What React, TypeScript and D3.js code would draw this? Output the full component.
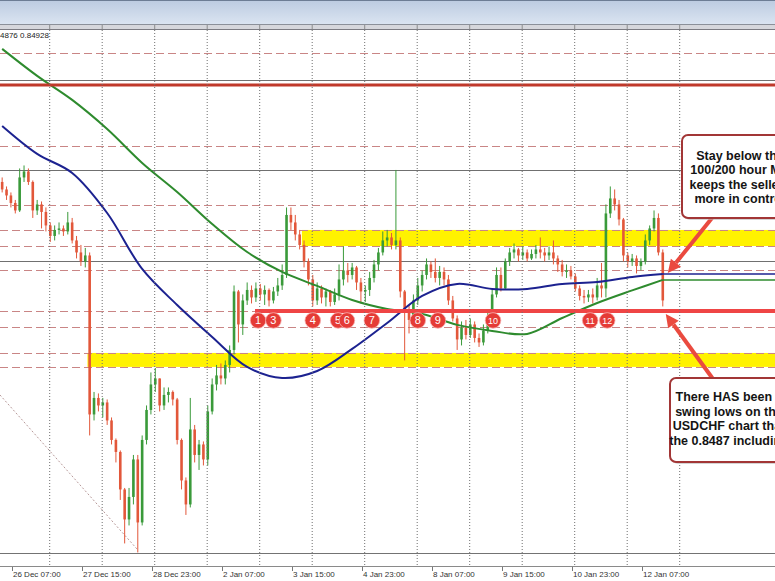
import React, { useEffect, useRef } from 'react';
import * as d3 from 'd3';

// USDCHF, 2-hour candles. open of each bar = previous close
const firstOpen = 0.8573;
const closes = [
  0.8568, 0.8564, 0.8559, 0.8554, 0.8576, 0.8580, 0.8573, 0.8554, 0.8558, 0.8553,
  0.8544, 0.8537, 0.8541, 0.8542, 0.8540, 0.8546, 0.8534, 0.8526, 0.8520, 0.8524,
  0.8418, 0.8429, 0.8424, 0.8426, 0.8414, 0.8401, 0.8393, 0.8368, 0.8348, 0.8363,
  0.8388, 0.8346, 0.8401, 0.8421, 0.8438, 0.8442, 0.8424, 0.8431, 0.8433, 0.8428,
  0.8401, 0.8374, 0.8358, 0.8408, 0.8391, 0.8398, 0.8388, 0.8420, 0.8438, 0.8444,
  0.8442, 0.8451, 0.8461, 0.8500, 0.8478, 0.8494, 0.8501, 0.8496, 0.8502, 0.8498,
  0.8501, 0.8494, 0.8500, 0.8504, 0.8511, 0.8551, 0.8546, 0.8538, 0.8531, 0.8520,
  0.8508, 0.8494, 0.8502, 0.8496, 0.8500, 0.8493, 0.8498, 0.8508, 0.8514, 0.8511,
  0.8516, 0.8506, 0.8500, 0.8501, 0.8509, 0.8518, 0.8526, 0.8534, 0.8536, 0.8531,
  0.8534, 0.8500, 0.8488, 0.8481, 0.8494, 0.8504, 0.8511, 0.8518, 0.8513, 0.8509,
  0.8513, 0.8508, 0.8494, 0.8482, 0.8468, 0.8476, 0.8471, 0.8478, 0.8469, 0.8466,
  0.8474, 0.8482, 0.8498, 0.8511, 0.8502, 0.8520, 0.8526, 0.8528, 0.8524, 0.8526,
  0.8522, 0.8525, 0.8528, 0.8526, 0.8524, 0.8526, 0.8522, 0.8518, 0.8513, 0.8514,
  0.8510, 0.8502, 0.8497, 0.8496, 0.8498, 0.8496, 0.8504, 0.8502, 0.8552, 0.8562,
  0.8558, 0.8548, 0.8524, 0.8520, 0.8522, 0.8517, 0.8520, 0.8534, 0.8542, 0.8549,
  0.8526, 0.8494,
];
const highs = [
  0.8576, 0.8570, 0.8566, 0.8561, 0.8582, 0.8584, 0.8582, 0.8574, 0.8561, 0.8560,
  0.8556, 0.8546, 0.8544, 0.8546, 0.8544, 0.8553, 0.8549, 0.8537, 0.8531, 0.8529,
  0.8526, 0.8433, 0.8432, 0.8429, 0.8428, 0.8416, 0.8402, 0.8394, 0.8369, 0.8369,
  0.8391, 0.8391, 0.8404, 0.8424, 0.8446, 0.8449, 0.8442, 0.8436, 0.8436, 0.8434,
  0.8429, 0.8402, 0.8376, 0.8429, 0.8411, 0.8401, 0.8400, 0.8424, 0.8442, 0.8451,
  0.8452, 0.8454, 0.8464, 0.8504, 0.8501, 0.8498, 0.8506, 0.8504, 0.8506, 0.8505,
  0.8504, 0.8502, 0.8503, 0.8509, 0.8518, 0.8556, 0.8556, 0.8551, 0.8541, 0.8534,
  0.8522, 0.8511, 0.8506, 0.8504, 0.8502, 0.8501, 0.8502, 0.8518, 0.8530, 0.8519,
  0.8519, 0.8517, 0.8509, 0.8504, 0.8513, 0.8521, 0.8529, 0.8540, 0.8541, 0.8539,
  0.8581, 0.8536, 0.8501, 0.8491, 0.8498, 0.8509, 0.8514, 0.8522, 0.8520, 0.8522,
  0.8517, 0.8516, 0.8511, 0.8497, 0.8484, 0.8480, 0.8481, 0.8482, 0.8480, 0.8472,
  0.8478, 0.8486, 0.8501, 0.8516, 0.8516, 0.8522, 0.8529, 0.8532, 0.8529, 0.8530,
  0.8528, 0.8528, 0.8531, 0.8536, 0.8529, 0.8530, 0.8534, 0.8524, 0.8521, 0.8518,
  0.8517, 0.8512, 0.8504, 0.8501, 0.8501, 0.8502, 0.8509, 0.8519, 0.8558, 0.8570,
  0.8568, 0.8561, 0.8549, 0.8526, 0.8525, 0.8524, 0.8522, 0.8538, 0.8544, 0.8554,
  0.8552, 0.8528,
];
const lows = [
  0.8566, 0.8561, 0.8556, 0.8552, 0.8553, 0.8573, 0.8571, 0.8549, 0.8551, 0.8542,
  0.8540, 0.8533, 0.8534, 0.8538, 0.8537, 0.8538, 0.8532, 0.8522, 0.8517, 0.8516,
  0.8404, 0.8414, 0.8420, 0.8416, 0.8411, 0.8398, 0.8386, 0.8361, 0.8332, 0.8344,
  0.8358, 0.8326, 0.8344, 0.8398, 0.8418, 0.8433, 0.8420, 0.8421, 0.8426, 0.8424,
  0.8398, 0.8368, 0.8351, 0.8356, 0.8386, 0.8381, 0.8384, 0.8384, 0.8418, 0.8434,
  0.8438, 0.8438, 0.8446, 0.8458, 0.8466, 0.8471, 0.8491, 0.8492, 0.8493, 0.8494,
  0.8491, 0.8490, 0.8492, 0.8497, 0.8501, 0.8509, 0.8541, 0.8534, 0.8528, 0.8516,
  0.8504, 0.8490, 0.8491, 0.8492, 0.8490, 0.8490, 0.8491, 0.8494, 0.8504, 0.8506,
  0.8508, 0.8501, 0.8492, 0.8493, 0.8497, 0.8506, 0.8514, 0.8524, 0.8530, 0.8528,
  0.8528, 0.8496, 0.8454, 0.8472, 0.8478, 0.8491, 0.8500, 0.8508, 0.8509, 0.8506,
  0.8504, 0.8504, 0.8491, 0.8480, 0.8461, 0.8464, 0.8468, 0.8469, 0.8466, 0.8463,
  0.8464, 0.8472, 0.8480, 0.8496, 0.8500, 0.8501, 0.8517, 0.8522, 0.8520, 0.8521,
  0.8520, 0.8521, 0.8522, 0.8522, 0.8520, 0.8521, 0.8518, 0.8513, 0.8510, 0.8509,
  0.8508, 0.8500, 0.8494, 0.8492, 0.8493, 0.8492, 0.8494, 0.8496, 0.8496, 0.8549,
  0.8554, 0.8544, 0.8520, 0.8516, 0.8517, 0.8512, 0.8514, 0.8518, 0.8531, 0.8540,
  0.8524, 0.8490,
];

// moving averages sampled every 8 bars
const maBars = [0, 8, 16, 24, 32, 40, 48, 56, 64, 72, 80, 88, 96, 104, 112, 120, 128, 136, 144, 151];
const ma100 = [
  0.86103, 0.85917, 0.8579, 0.85523, 0.8515, 0.8491, 0.84697, 0.84497, 0.84423, 0.8447,
  0.84617, 0.8479, 0.8497, 0.8505, 0.85017, 0.85017, 0.8505, 0.85063, 0.85097, 0.85117,
];
const ma200 = [
  0.86617, 0.86437, 0.86277, 0.86083, 0.85857, 0.85663, 0.8545, 0.85263, 0.8513, 0.85037,
  0.84943, 0.84883, 0.8485, 0.84777, 0.84737, 0.84717, 0.84823, 0.84923, 0.85007, 0.85077,
];

const timeLabels = [
  '26 Dec 07:00', '27 Dec 15:00', '28 Dec 23:00', '2 Jan 07:00', '3 Jan 15:00',
  '4 Jan 23:00', '8 Jan 07:00', '9 Jan 15:00', '10 Jan 23:00', '12 Jan 07:00',
];

const dashedLevels = [0.8659, 0.8597, 0.85577, 0.8541, 0.85303, 0.85143, 0.8487, 0.84763, 0.8459, 0.84497];
const solidLevels = [0.8641, 0.8581, 0.85203];
const topLevel = 0.86377;
const swingLevel = 0.8487;
const bandTops = [0.8541, 0.8459];
const bandBottoms = [0.85303, 0.84497];
const bandStarts = [68.5, 19.5];
const trendBars = [-0.5, 31];
const trendPrices = [0.8431, 0.83277];
const swingBars = [58.5, 62, 71, 76.8, 78.8, 84.5, 95, 99.6, 112.2, 134.4, 138.3];
const swingLabels = ['1', '3', '4', '5', '6', '7', '8', '9', '10', '11', '12'];

const boxTop = ['Stay below the', '100/200 hour MA', 'keeps the sellers', 'more in control'];
const boxBottom = ['There HAS been a', 'swing lows on the', 'USDCHF chart that', 'the 0.8487 including'];

const W = 775;
const H = 581;

const App: React.FC = () => {
  const ref = useRef<SVGSVGElement | null>(null);

  useEffect(() => {
    if (!ref.current) return;
    const svg = d3.select(ref.current);
    svg.selectAll('*').remove();

    // hour-bar index -> px, labels every 32 bars
    const x = d3.scaleLinear().domain([5, 5 + 32 * 10]).range([12, 712]);
    const xBar = (i: number) => x(2 * i + 0.5);
    const y = d3.scaleLinear().domain([0.83243, 0.86743]).range([555, 30]);
    const font = 'Liberation Sans, Arial, sans-serif';

    const defs = svg.append('defs');
    const grad = defs.append('linearGradient').attr('id', 'hdr')
      .attr('x1', 0).attr('y1', 0).attr('x2', 0).attr('y2', 1);
    grad.append('stop').attr('offset', '0%').attr('stop-color', '#bccbe1');
    grad.append('stop').attr('offset', '100%').attr('stop-color', '#dae4f1');
    defs.append('clipPath').attr('id', 'plot')
      .append('rect').attr('x', 0).attr('y', 30).attr('width', W).attr('height', 523);

    svg.append('rect').attr('width', W).attr('height', H).attr('fill', '#fff');

    const plot = svg.append('g').attr('clip-path', 'url(#plot)');

    // yellow zones
    bandTops.forEach((t, k) => {
      plot.append('rect')
        .attr('x', xBar(bandStarts[k])).attr('y', y(t))
        .attr('width', W - xBar(bandStarts[k])).attr('height', y(bandBottoms[k]) - y(t))
        .attr('fill', '#fff200');
    });

    // vertical dotted grid, every 24 bars
    const gridHours = d3.range(22, 320, 24);
    svg.selectAll('.vgrid').data(gridHours).enter().append('line')
      .attr('x1', d => x(d) + 0.5).attr('x2', d => x(d) + 0.5)
      .attr('y1', 30).attr('y2', 567)
      .attr('stroke', '#6f6f6f').attr('stroke-dasharray', '1,2');

    plot.selectAll('.dash').data(dashedLevels).enter().append('line')
      .attr('x1', 0).attr('x2', W)
      .attr('y1', d => Math.round(y(d)) + 0.5).attr('y2', d => Math.round(y(d)) + 0.5)
      .attr('stroke', '#c98585').attr('stroke-dasharray', '8,4');

    plot.selectAll('.solid').data(solidLevels).enter().append('line')
      .attr('x1', 0).attr('x2', W)
      .attr('y1', d => Math.round(y(d)) + 0.5).attr('y2', d => Math.round(y(d)) + 0.5)
      .attr('stroke', '#707070');

    plot.append('line')
      .attr('x1', xBar(trendBars[0])).attr('y1', y(trendPrices[0]))
      .attr('x2', xBar(trendBars[1])).attr('y2', y(trendPrices[1]))
      .attr('stroke', '#b89a9a').attr('stroke-dasharray', '2,2');

    // candles
    const candles = closes.map((c, i) => ({
      i, o: i === 0 ? firstOpen : closes[i - 1], c, h: highs[i], l: lows[i],
    }));
    const bull = '#3a9a3a';
    const bear = '#e2573a';
    const cg = plot.append('g');
    cg.selectAll('.wick').data(candles).enter().append('line')
      .attr('x1', d => xBar(d.i)).attr('x2', d => xBar(d.i))
      .attr('y1', d => y(Math.max(d.h, d.o, d.c))).attr('y2', d => y(Math.min(d.l, d.o, d.c)))
      .attr('stroke', d => (d.c >= d.o ? bull : bear)).attr('stroke-width', 1);
    cg.selectAll('.body').data(candles).enter().append('rect')
      .attr('x', d => xBar(d.i) - 1.3).attr('width', 2.6)
      .attr('y', d => y(Math.max(d.o, d.c)))
      .attr('height', d => Math.max(1, Math.abs(y(d.o) - y(d.c))))
      .attr('fill', d => (d.c >= d.o ? bull : bear));

    // moving averages
    const maLine = d3.line<number>()
      .x((_, k) => xBar(maBars[k]))
      .y(d => y(d))
      .curve(d3.curveCatmullRom.alpha(0.5));
    const drawMa = (vals: number[], color: string) => {
      plot.append('path').attr('d', maLine(vals)).attr('fill', 'none')
        .attr('stroke', color).attr('stroke-width', 2);
      const last = vals[vals.length - 1];
      plot.append('line')
        .attr('x1', xBar(maBars[maBars.length - 1])).attr('x2', W)
        .attr('y1', y(last)).attr('y2', y(last))
        .attr('stroke', color).attr('stroke-width', 1.5);
    };
    drawMa(ma200, '#2e8b2e');
    drawMa(ma100, '#1c2290');

    // red levels
    plot.append('line').attr('x1', 0).attr('x2', W)
      .attr('y1', y(topLevel)).attr('y2', y(topLevel))
      .attr('stroke', '#c0392b').attr('stroke-width', 3);
    plot.append('line').attr('x1', xBar(57.8)).attr('x2', W)
      .attr('y1', y(swingLevel)).attr('y2', y(swingLevel))
      .attr('stroke', '#ef4545').attr('stroke-width', 4);

    // numbered swing lows
    const cy = y(swingLevel) + 9.5;
    const sw = svg.selectAll('.sw').data(swingBars).enter().append('g')
      .attr('transform', d => `translate(${xBar(d)},${cy})`);
    sw.append('circle').attr('r', 7.8).attr('fill', '#e53b36')
      .attr('stroke', '#f6b0ae').attr('stroke-width', 0.8);
    sw.append('text').text((_, k) => swingLabels[k])
      .attr('text-anchor', 'middle').attr('dy', 3.5)
      .attr('font-family', font).attr('font-size', (_, k) => (swingLabels[k].length > 1 ? 9 : 11))
      .attr('fill', '#fff');

    // arrows
    const arrow = (from: [number, number], tip: [number, number]) => {
      const ang = Math.atan2(tip[1] - from[1], tip[0] - from[0]);
      const len = 13;
      const base: [number, number] = [tip[0] - len * Math.cos(ang), tip[1] - len * Math.sin(ang)];
      svg.append('line').attr('x1', from[0]).attr('y1', from[1])
        .attr('x2', base[0]).attr('y2', base[1])
        .attr('stroke', '#ea4a3f').attr('stroke-width', 4);
      const px = Math.sin(ang) * 6.5;
      const py = -Math.cos(ang) * 6.5;
      svg.append('polygon')
        .attr('points', `${tip[0]},${tip[1]} ${base[0] + px},${base[1] + py} ${base[0] - px},${base[1] - py}`)
        .attr('fill', '#ea4a3f');
    };
    const lastX = xBar(maBars[maBars.length - 1]);
    arrow([712, 218], [lastX + 5, y(ma100[ma100.length - 1]) - 1]);
    arrow([713, 379], [lastX + 3, y(swingLevel) + 3]);

    // annotation boxes (run past the right edge, as in the screenshot)
    const box = (bx: number, by: number, bw: number, bh: number, lines: string[], cx: number, base: number) => {
      svg.append('rect').attr('x', bx + 2).attr('y', by + 2).attr('width', bw).attr('height', bh)
        .attr('rx', 6).attr('fill', '#b8b8b8').attr('opacity', 0.6);
      svg.append('rect').attr('x', bx).attr('y', by).attr('width', bw).attr('height', bh)
        .attr('rx', 6).attr('fill', '#fff').attr('stroke', '#a23636').attr('stroke-width', 2);
      lines.forEach((t, k) => {
        svg.append('text').text(t).attr('x', cx).attr('y', base + k * 14.5)
          .attr('text-anchor', 'middle').attr('font-family', font)
          .attr('font-weight', 'bold').attr('font-size', 12.5).attr('fill', '#141414');
      });
    };
    box(682, 135, 130, 83, boxTop, 740, 159.5);
    box(670, 378, 140, 84, boxBottom, 729, 401);

    // window header + ruler strip
    svg.append('rect').attr('width', W).attr('height', 24).attr('fill', 'url(#hdr)');
    svg.append('line').attr('x1', 0).attr('x2', W).attr('y1', 0.5).attr('y2', 0.5).attr('stroke', '#6d7d95');
    svg.append('rect').attr('y', 24).attr('width', W).attr('height', 6).attr('fill', '#d6d7dc');
    svg.append('line').attr('x1', 0).attr('x2', W).attr('y1', 24.5).attr('y2', 24.5).attr('stroke', '#8b9099');
    svg.append('line').attr('x1', 0).attr('x2', W).attr('y1', 29.5).attr('y2', 29.5).attr('stroke', '#7b7b82');
    svg.selectAll('.rt').data(gridHours).enter().append('line')
      .attr('x1', d => x(d) + 0.5).attr('x2', d => x(d) + 0.5).attr('y1', 25).attr('y2', 29)
      .attr('stroke', '#8d8d8d');

    svg.append('text').text('4876 0.84928').attr('x', 0).attr('y', 37.5)
      .attr('font-family', font).attr('font-size', 8).attr('fill', '#222');

    // bottom frame and time axis
    svg.append('line').attr('x1', 0).attr('x2', W).attr('y1', 553.5).attr('y2', 553.5).attr('stroke', '#737373');
    svg.append('line').attr('x1', 0).attr('x2', W).attr('y1', 566.5).attr('y2', 566.5).attr('stroke', '#8a8a8a');
    const ticks = timeLabels.map((t, k) => ({ t, h: 5 + 32 * k }));
    svg.selectAll('.tk').data(ticks).enter().append('line')
      .attr('x1', d => x(d.h) + 0.5).attr('x2', d => x(d.h) + 0.5).attr('y1', 567).attr('y2', 571)
      .attr('stroke', '#777');
    svg.selectAll('.tl').data(ticks).enter().append('text')
      .text(d => d.t).attr('x', d => x(d.h) + 1).attr('y', 577)
      .attr('font-family', font).attr('font-size', 8).attr('fill', '#333');
  }, []);

  return (
    <svg ref={ref} width={W} height={H} style={{ position: 'fixed', left: 0, top: 0 }}></svg>
  );
};

export default App;
